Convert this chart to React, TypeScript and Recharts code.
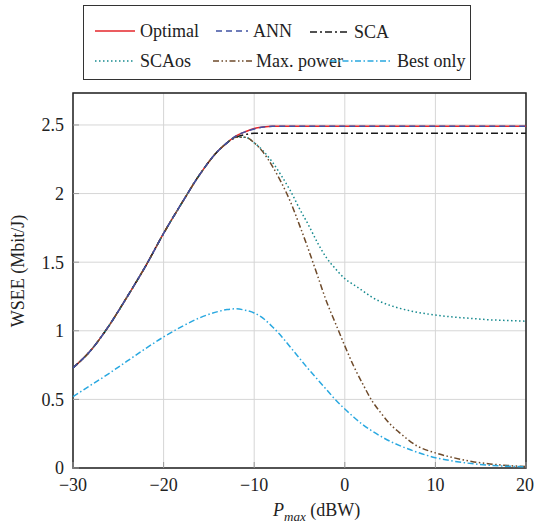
import { LineChart, Line, XAxis, YAxis, CartesianGrid, ReferenceArea } from 'recharts';

// P_max (dBW) sample points
const PMAX = [-30, -28, -26, -24, -22, -20, -18, -16, -14, -13, -12, -11, -10, -9, -8, -7, -6, -5, -4, -3, -2, -1, 0, 1, 2, 3, 4, 5, 6, 8, 10, 12, 14, 16, 18, 20];

// WSEE (Mbit/J) per scheme
const OPTIMAL = [0.73, 0.86, 1.04, 1.25, 1.47, 1.71, 1.93, 2.14, 2.31, 2.37, 2.42, 2.45, 2.475, 2.485, 2.49, 2.49, 2.49, 2.49, 2.49, 2.49, 2.49, 2.49, 2.49, 2.49, 2.49, 2.49, 2.49, 2.49, 2.49, 2.49, 2.49, 2.49, 2.49, 2.49, 2.49, 2.49];
const ANN = [0.73, 0.86, 1.04, 1.25, 1.47, 1.71, 1.93, 2.14, 2.31, 2.37, 2.42, 2.45, 2.47, 2.485, 2.49, 2.49, 2.49, 2.49, 2.49, 2.49, 2.49, 2.49, 2.49, 2.49, 2.49, 2.49, 2.49, 2.49, 2.49, 2.49, 2.49, 2.49, 2.49, 2.49, 2.49, 2.49];
const SCA = [0.73, 0.86, 1.04, 1.25, 1.47, 1.71, 1.93, 2.14, 2.31, 2.37, 2.41, 2.43, 2.44, 2.44, 2.44, 2.44, 2.44, 2.44, 2.44, 2.44, 2.44, 2.44, 2.44, 2.44, 2.44, 2.44, 2.44, 2.44, 2.44, 2.44, 2.44, 2.44, 2.44, 2.44, 2.44, 2.44];
const SCAOS = [0.73, 0.86, 1.04, 1.25, 1.47, 1.71, 1.93, 2.14, 2.31, 2.37, 2.41, 2.41, 2.37, 2.31, 2.23, 2.13, 2.02, 1.89, 1.77, 1.64, 1.53, 1.45, 1.38, 1.335, 1.29, 1.245, 1.21, 1.185, 1.165, 1.135, 1.115, 1.1, 1.09, 1.08, 1.075, 1.07];
const MAX_POWER = [0.73, 0.86, 1.04, 1.25, 1.47, 1.71, 1.93, 2.14, 2.31, 2.37, 2.41, 2.41, 2.37, 2.3, 2.2, 2.08, 1.94, 1.77, 1.59, 1.4, 1.21, 1.05, 0.89, 0.74, 0.61, 0.49, 0.4, 0.32, 0.26, 0.16, 0.11, 0.075, 0.048, 0.03, 0.018, 0.01];
const BEST_ONLY = [0.52, 0.605, 0.69, 0.78, 0.87, 0.955, 1.03, 1.095, 1.14, 1.155, 1.16, 1.15, 1.13, 1.09, 1.03, 0.96, 0.88, 0.8, 0.72, 0.645, 0.57, 0.495, 0.43, 0.37, 0.315, 0.27, 0.23, 0.195, 0.165, 0.115, 0.075, 0.05, 0.032, 0.02, 0.013, 0.008];

const X_TICKS = [-30, -20, -10, 0, 10, 20];
const Y_TICKS = [0, 0.5, 1, 1.5, 2, 2.5];
const Y_MAX = 2.733;

const data = PMAX.map((p, i) => ({
    p,
    optimal: OPTIMAL[i],
    ann: ANN[i],
    sca: SCA[i],
    scaos: SCAOS[i],
    maxPower: MAX_POWER[i],
    bestOnly: BEST_ONLY[i],
}));

const SERIES = [
    { key: 'optimal', name: 'Optimal', color: '#e5262b', dash: undefined },
    { key: 'sca', name: 'SCA', color: '#1a1a1a', dash: '7 3 2 3' },
    { key: 'scaos', name: 'SCAos', color: '#178a8f', dash: '1.5 2.5' },
    { key: 'maxPower', name: 'Max. power', color: '#6e4a2a', dash: '6 2.5 1.5 2.5 1.5 2.5' },
    { key: 'bestOnly', name: 'Best only', color: '#29a8e0', dash: '6 2.5 1.5 2.5' },
    { key: 'ann', name: 'ANN', color: '#3f51a3', dash: '6 4' },
];

const FONT = '"Liberation Serif", "Times New Roman", serif';
const TEXT_STYLE = { fontFamily: FONT, fontSize: 18, fill: '#222' };

// legend placement (sample start, sample end, text start, row centre)
const LEGEND = [
    { key: 'optimal', x1: 95, x2: 135, tx: 140, y: 31 },
    { key: 'ann', x1: 216, x2: 248, tx: 253, y: 31 },
    { key: 'sca', x1: 310, x2: 347, tx: 354, y: 32 },
    { key: 'scaos', x1: 95, x2: 135, tx: 140, y: 61 },
    { key: 'maxPower', x1: 213, x2: 253, tx: 256, y: 61 },
    { key: 'bestOnly', x1: 330, x2: 392, tx: 397, y: 61 },
];

const fmtX = (v: number) => (v < 0 ? '\u2212' + Math.abs(v) : String(v));

function XLabel() {
    return (
        <text x={273} y={516} style={TEXT_STYLE}>
            <tspan style={{ fontStyle: 'italic' }}>P</tspan>
            <tspan style={{ fontStyle: 'italic', fontSize: 13 }} dy={5}>max</tspan>
            <tspan dy={-5}> (dBW)</tspan>
        </text>
    );
}

function YLabel() {
    return (
        <text x={24} y={271} transform="rotate(-90 24 271)" textAnchor="middle" style={TEXT_STYLE}>
            WSEE (Mbit/J)
        </text>
    );
}

function ChartLegend() {
    return (
        <div style={{ position: 'absolute', left: 83, top: 5, width: 388, height: 75, border: '1px solid #333', boxSizing: 'border-box', background: '#fff' }}>
            <svg width={388} height={75} style={{ position: 'absolute', left: -1, top: -6 }}>
                {LEGEND.map((l) => {
                    const s = SERIES.find((x) => x.key === l.key)!;
                    return (
                        <g key={l.key}>
                            <line x1={l.x1 - 83} x2={l.x2 - 83} y1={l.y} y2={l.y} stroke={s.color} strokeWidth={1.5} strokeDasharray={s.dash} />
                            <text x={l.tx - 83} y={l.y + 6} style={TEXT_STYLE}>{s.name}</text>
                        </g>
                    );
                })}
            </svg>
        </div>
    );
}

export default function App() {
    return (
        <div style={{ position: 'absolute', left: 0, top: 0, width: 534, height: 525, background: '#fff', fontFamily: FONT }}>
            <LineChart width={534} height={525} data={data} margin={{ top: 93, right: 8, bottom: 27, left: 0 }} style={{ fontFamily: FONT }}>
                <CartesianGrid stroke="#d6d6d6" strokeWidth={1} />
                <XAxis
                    dataKey="p"
                    type="number"
                    domain={[-30, 20]}
                    ticks={X_TICKS}
                    tickFormatter={fmtX}
                    height={30}
                    tickSize={-6}
                    tickMargin={16}
                    axisLine={false}
                    tickLine={{ stroke: '#999' }}
                    tick={{ ...TEXT_STYLE, style: TEXT_STYLE }}
                    label={<XLabel />}
                />
                <XAxis
                    xAxisId="top"
                    orientation="top"
                    dataKey="p"
                    type="number"
                    domain={[-30, 20]}
                    ticks={X_TICKS}
                    tickFormatter={() => ''}
                    height={0}
                    tickSize={-6}
                    axisLine={false}
                    tickLine={{ stroke: '#999' }}
                />
                <YAxis
                    type="number"
                    domain={[0, Y_MAX]}
                    ticks={Y_TICKS}
                    width={73}
                    tickSize={-6}
                    tickMargin={15}
                    axisLine={false}
                    tickLine={{ stroke: '#999' }}
                    tick={{ ...TEXT_STYLE, style: TEXT_STYLE }}
                    label={<YLabel />}
                />
                <YAxis
                    yAxisId="right"
                    orientation="right"
                    type="number"
                    domain={[0, Y_MAX]}
                    ticks={Y_TICKS}
                    tickFormatter={() => ''}
                    width={0}
                    tickSize={-6}
                    axisLine={false}
                    tickLine={{ stroke: '#999' }}
                />
                {SERIES.map((s) => (
                    <Line
                        key={s.key}
                        dataKey={s.key}
                        name={s.name}
                        type="monotone"
                        stroke={s.color}
                        strokeWidth={1.5}
                        strokeDasharray={s.dash}
                        dot={false}
                        activeDot={false}
                        isAnimationActive={false}
                    />
                ))}
                <ReferenceArea x1={-30} x2={20} y1={0} y2={Y_MAX} fill="none" stroke="#222" strokeWidth={1.5} ifOverflow="visible" />
            </LineChart>
            <ChartLegend />
        </div>
    );
}
